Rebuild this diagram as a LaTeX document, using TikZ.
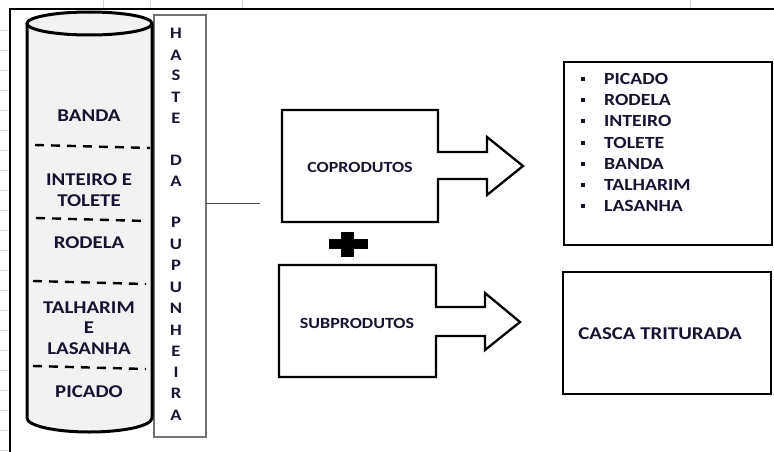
\documentclass[tikz,border=0pt]{standalone}
\usepackage{fontspec}
\setmainfont{Carlito}[FakeStretch=1.16]
\definecolor{txt}{RGB}{22,20,48}
\definecolor{cylfill}{RGB}{242,242,242}
\definecolor{faint}{RGB}{215,215,215}
\begin{document}
\begin{tikzpicture}[x=1pt,y=-1pt,
  cyllbl/.style={font=\fontsize{18}{20.5}\selectfont\bfseries,text=txt,align=center,inner sep=0pt},
  letter/.style={font=\fontsize{16}{18}\selectfont\bfseries,text=txt,inner sep=0pt},
  boxlbl/.style={font=\fontsize{15.5}{18}\selectfont\bfseries,text=txt,inner sep=0pt},
  listlbl/.style={font=\fontsize{17}{20}\selectfont\bfseries,text=txt,inner sep=0pt,anchor=west},
  bul/.style={fill=txt,minimum size=4pt,inner sep=0pt},
  cutline/.style={line width=2.4pt,dash pattern=on 9pt off 7pt},
  flowbox/.style={draw=black,line width=2.3pt,fill=white,line join=miter},
  plainbox/.style={draw=black,line width=2.8pt,fill=white}]
\useasboundingbox (0,0) rectangle (774,452);
% faint spreadsheet grid marks
\foreach \yy in {30,50,...,450} \draw[faint,line width=0.8pt] (0,\yy) -- (8,\yy);
\foreach \xx in {103,150,242,690} \draw[faint,line width=0.8pt] (\xx,0) -- (\xx,8);
% outer frame
\draw[line width=2pt] (10,452) -- (10,9) -- (774,9);
% haste box
\draw[draw=black!55,line width=1.5pt,fill=white] (154,15) rectangle (206,437);
% cylinder
\fill[cylfill] (27,23.5) -- (27,418) arc[start angle=180,end angle=0,x radius=62.5,y radius=14] -- (152,23.5) -- cycle;
\draw[line width=3pt] (27,23.5) -- (27,418) arc[start angle=180,end angle=0,x radius=62.5,y radius=14] -- (152,23.5);
\draw[line width=3pt,fill=cylfill] (89.5,23.5) ellipse[x radius=62.5,y radius=11.5];
% dashed cut lines
\draw[cutline] (35,145) -- (150,148);
\draw[cutline] (36,218) -- (146,221);
\draw[cutline] (33,281) -- (146,284);
\draw[cutline] (33,366) -- (146,369);
% cylinder labels
\node[cyllbl] (banda) at (89,116) {BANDA};
\node[cyllbl] (inteiro) at (89,190) {INTEIRO E\\TOLETE};
\node[cyllbl] (rodela) at (89,243) {RODELA};
\node[cyllbl] (talharim) at (89,328) {TALHARIM\\E\\LASANHA};
\node[cyllbl] (picado) at (89,392) {PICADO};
% vertical title letters
\foreach \ch/\yy [count=\i] in {H/33,A/55,S/75,T/97,E/118,D/160,A/181,P/222,U/244,P/265,U/287,N/308,H/330,E/351,I/372,R/393,A/415}
  \node[letter] (hl\i) at (176,\yy) {\ch};
% connector from haste box
\coordinate (hasteR) at (206,203);
\coordinate (connEnd) at (260,203);
\draw[black!70,line width=1pt] (hasteR) -- (connEnd);
% coprodutos arrow box
\draw[flowbox] (282,110) -- (438,110) -- (438,152) -- (487,152) -- (487,137) -- (523,166) -- (487,195) -- (487,179) -- (438,179) -- (438,222) -- (282,222) -- cycle;
\node[boxlbl] (copro) at (360,167) {COPRODUTOS};
% plus sign
\fill (329,239) rectangle (368,249);
\fill (341,232) rectangle (354,257);
% subprodutos arrow box
\draw[flowbox] (279,265) -- (436,265) -- (436,307) -- (485,307) -- (485,293) -- (520,322) -- (485,350) -- (485,336) -- (436,336) -- (436,377) -- (279,377) -- cycle;
\node[boxlbl] (subpro) at (357,323) {SUBPRODUTOS};
% list box
\draw[plainbox] (564,62) rectangle (772,245);
\foreach \item/\yy [count=\i] in {PICADO/79,RODELA/100,INTEIRO/121,TOLETE/143,BANDA/164,TALHARIM/185,LASANHA/206}{
  \node[bul] (b\i) at (583,\yy) {};
  \node[listlbl] (it\i) at (604,\yy) {\item};
}
% casca box
\draw[plainbox] (563,272) rectangle (771,394);
\node[boxlbl,font=\fontsize{18}{20}\selectfont\bfseries] (casca) at (660,334) {CASCA TRITURADA};
\end{tikzpicture}
\end{document}
